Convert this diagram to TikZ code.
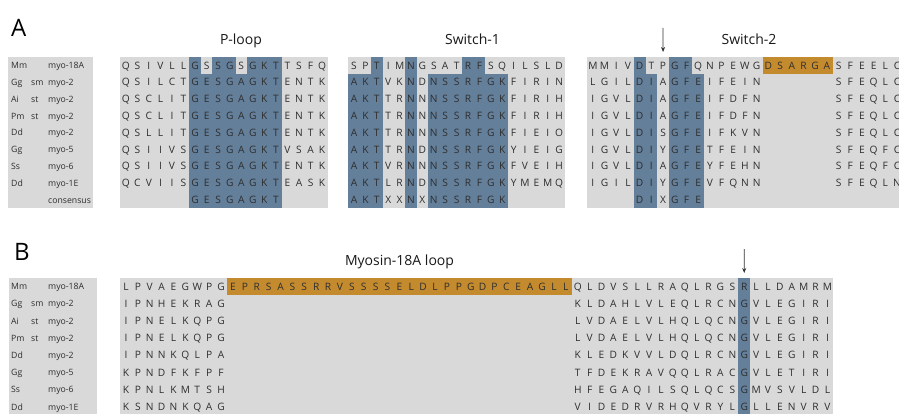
\documentclass[tikz,border=0pt]{standalone}
\usepackage{fontspec}
\setmainfont{Open Sans}
\usetikzlibrary{arrows.meta}
\definecolor{bggray}{HTML}{D9D9D9}
\definecolor{seqblue}{HTML}{647F9A}
\definecolor{seqorange}{HTML}{C48A2E}
\definecolor{txt}{HTML}{2E2E2E}
\tikzset{
  aa/.style={anchor=base,inner sep=0pt,text=txt,font=\fontsize{10.2}{11}\selectfont},
  lab/.style={anchor=base west,inner sep=0pt,text=txt,font=\fontsize{8.7}{10}\selectfont},
  ttl/.style={anchor=base,inner sep=0pt,text=black!90,font=\fontsize{14}{16}\selectfont},
  panel/.style={anchor=base west,inner sep=0pt,text=black,font=\fontsize{24}{26}\selectfont},
  mark arrow/.style={draw=black!80,line width=0.7pt,-{Stealth[length=5pt,width=4pt]}}
}
\newcommand\seqline[5]{%
  \foreach \c [count=\i] in {#5}{\node[aa] (#1-\i) at ({#2+(\i-0.5)*#3},{#4+3.7}) {\c};}}
\newcommand\labline[5]{%
  \node[lab] (#1a) at (11,{#2+3.3}) {#3};
  \node[lab] (#1b) at (31,{#2+3.3}) {#4};
  \node[lab] (#1c) at (48,{#2+3.3}) {#5};}
\begin{document}
\begin{tikzpicture}[x=1pt,y=-1pt]
\clip (0,0) rectangle (899,414);
\fill[white] (0,0) rectangle (899,414);
% ================= Panel A =================
\node[panel] (A) at (11,37) {A};
\node[ttl] (tploop) at (241,44.3) {P-loop};
\node[ttl] (tsw1) at (472.5,44.3) {Switch-1};
\node[ttl] (tsw2) at (749,45) {Switch-2};
% label box
\fill[bggray] (8,57) rectangle (93,208.2);
\labline{la1}{65.4}{Mm}{}{myo-18A}
\labline{la2}{82.2}{Gg}{sm}{myo-2}
\labline{la3}{99.0}{Ai}{st}{myo-2}
\labline{la4}{115.8}{Pm}{st}{myo-2}
\labline{la5}{132.6}{Dd}{}{myo-2}
\labline{la6}{149.4}{Gg}{}{myo-5}
\labline{la7}{166.2}{Ss}{}{myo-6}
\labline{la8}{183.0}{Dd}{}{myo-1E}
\labline{la9}{199.8}{}{}{consensus}
% P-loop: x0=120, w=11.55
\fill[bggray] (120,57) rectangle (327.9,208.2);
\fill[seqblue] (189.3,57) rectangle (281.7,208.2);
\fill[bggray] (200.85,57) rectangle (212.4,73.8);
\fill[bggray] (235.5,57) rectangle (247.05,73.8);
\seqline{p1}{120}{11.55}{65.4}{Q,S,I,V,L,L,G,S,S,G,S,G,K,T,T,S,F,Q}
\seqline{p2}{120}{11.55}{82.2}{Q,S,I,L,C,T,G,E,S,G,A,G,K,T,E,N,T,K}
\seqline{p3}{120}{11.55}{99.0}{Q,S,C,L,I,T,G,E,S,G,A,G,K,T,E,N,T,K}
\seqline{p4}{120}{11.55}{115.8}{Q,S,C,L,I,T,G,E,S,G,A,G,K,T,E,N,T,K}
\seqline{p5}{120}{11.55}{132.6}{Q,S,L,L,I,T,G,E,S,G,A,G,K,T,E,N,T,K}
\seqline{p6}{120}{11.55}{149.4}{Q,S,I,I,V,S,G,E,S,G,A,G,K,T,V,S,A,K}
\seqline{p7}{120}{11.55}{166.2}{Q,S,I,I,V,S,G,E,S,G,A,G,K,T,E,N,T,K}
\seqline{p8}{120}{11.55}{183.0}{Q,C,V,I,I,S,G,E,S,G,A,G,K,T,E,A,S,K}
\seqline{p9}{189.3}{11.55}{199.8}{G,E,S,G,A,G,K,T}
% Switch-1: x0=348.3, w=11.4
\fill[bggray] (348.3,57) rectangle (564.9,208.2);
\fill[seqblue] (371.1,57) rectangle (382.5,208.2);
\fill[seqblue] (405.3,57) rectangle (416.7,208.2);
\fill[seqblue] (462.3,57) rectangle (485.1,208.2);
\fill[seqblue] (348.3,73.8) rectangle (371.1,208.2);
\fill[seqblue] (428.1,73.8) rectangle (507.9,208.2);
\seqline{s1}{348.3}{11.4}{65.4}{S,P,T,I,M,N,G,S,A,T,R,F,S,Q,I,L,S,L,D}
\seqline{s2}{348.3}{11.4}{82.2}{A,K,T,V,K,N,D,N,S,S,R,F,G,K,F,I,R,I,N}
\seqline{s3}{348.3}{11.4}{99.0}{A,K,T,T,R,N,N,N,S,S,R,F,G,K,F,I,R,I,H}
\seqline{s4}{348.3}{11.4}{115.8}{A,K,T,T,R,N,N,N,S,S,R,F,G,K,F,I,R,I,H}
\seqline{s5}{348.3}{11.4}{132.6}{A,K,T,T,R,N,N,N,S,S,R,F,G,K,F,I,E,I,O}
\seqline{s6}{348.3}{11.4}{149.4}{A,K,T,T,R,N,D,N,S,S,R,F,G,K,Y,I,E,I,G}
\seqline{s7}{348.3}{11.4}{166.2}{A,K,T,V,R,N,N,N,S,S,R,F,G,K,F,V,E,I,H}
\seqline{s8}{348.3}{11.4}{183.0}{A,K,T,L,R,N,D,N,S,S,R,F,G,K,Y,M,E,M,Q}
\seqline{s9}{348.3}{11.4}{199.8}{A,K,T,X,X,N,X,N,S,S,R,F,G,K}
% Switch-2: x0=587, w=11.7
\fill[bggray] (587,57) rectangle (905,208.2);
\fill[seqblue] (633.8,57) rectangle (645.5,208.2);
\fill[seqblue] (668.9,57) rectangle (692.3,208.2);
\fill[seqblue] (645.5,73.8) rectangle (657.2,208.2);
\fill[seqblue] (692.3,73.8) rectangle (704.0,208.2);
\fill[seqorange] (762.5,57) rectangle (832.7,73.8);
\seqline{w1}{587}{11.7}{65.4}{M,M,I,V,D,T,P,G,F,Q,N,P,E,W,G,D,S,A,R,G,A,S,F,E,E,L,C}
\seqline{w2}{587}{11.7}{82.2}{L,G,I,L,D,I,A,G,F,E,I,F,E,I,N}
\seqline{w3}{587}{11.7}{99.0}{I,G,V,L,D,I,A,G,F,E,I,F,D,F,N}
\seqline{w4}{587}{11.7}{115.8}{I,G,V,L,D,I,A,G,F,E,I,F,D,F,N}
\seqline{w5}{587}{11.7}{132.6}{I,G,V,L,D,I,S,G,F,E,I,F,K,V,N}
\seqline{w6}{587}{11.7}{149.4}{I,G,V,L,D,I,Y,G,F,E,T,F,E,I,N}
\seqline{w7}{587}{11.7}{166.2}{I,G,V,L,D,I,A,G,F,E,Y,F,E,H,N}
\seqline{w8}{587}{11.7}{183.0}{I,G,I,L,D,I,Y,G,F,E,V,F,Q,N,N}
\seqline{v2}{832.7}{11.7}{82.2}{S,F,E,Q,L,C}
\seqline{v3}{832.7}{11.7}{99.0}{S,F,E,Q,L,C}
\seqline{v4}{832.7}{11.7}{115.8}{S,F,E,Q,L,C}
\seqline{v5}{832.7}{11.7}{132.6}{S,F,E,Q,L,C}
\seqline{v6}{832.7}{11.7}{149.4}{S,F,E,Q,F,C}
\seqline{v7}{832.7}{11.7}{166.2}{S,F,E,Q,F,C}
\seqline{v8}{832.7}{11.7}{183.0}{S,F,E,Q,L,N}
\seqline{w9}{633.8}{11.7}{199.8}{D,I,X,G,F,E}
\coordinate (arrA) at (663,28);
\draw[mark arrow] (arrA) -- (w1-7.north |- 0,52);
% ================= Panel B =================
\node[panel] (B) at (14,260) {B};
\node[ttl] (tloop) at (399.5,265.5) {Myosin-18A loop};
\fill[bggray] (9,277.7) rectangle (97,420);
\labline{lb1}{286.3}{Mm}{}{myo-18A}
\labline{lb2}{303.5}{Gg}{sm}{myo-2}
\labline{lb3}{320.7}{Ai}{st}{myo-2}
\labline{lb4}{337.9}{Pm}{st}{myo-2}
\labline{lb5}{355.1}{Dd}{}{myo-2}
\labline{lb6}{372.3}{Gg}{}{myo-5}
\labline{lb7}{389.5}{Ss}{}{myo-6}
\labline{lb8}{406.7}{Dd}{}{myo-1E}
% seq box x0=120, w=11.89
\fill[bggray] (120,277.7) rectangle (833.4,420);
\fill[seqorange] (227.0,277.7) rectangle (571.8,294.9);
\fill[seqblue] (738.3,277.7) rectangle (750.2,420);
\seqline{b1}{120}{11.89}{286.3}{L,P,V,A,E,G,W,P,G}
\seqline{b2}{120}{11.89}{303.5}{I,P,N,H,E,K,R,A,G}
\seqline{b3}{120}{11.89}{320.7}{I,P,N,E,L,K,Q,P,G}
\seqline{b4}{120}{11.89}{337.9}{I,P,N,E,L,K,Q,P,G}
\seqline{b5}{120}{11.89}{355.1}{I,P,N,N,K,Q,L,P,A}
\seqline{b6}{120}{11.89}{372.3}{K,P,N,D,F,K,F,P,F}
\seqline{b7}{120}{11.89}{389.5}{K,P,N,L,K,M,T,S,H}
\seqline{b8}{120}{11.89}{406.7}{K,S,N,D,N,K,Q,A,G}
\seqline{o1}{227.0}{11.89}{286.3}{E,P,R,S,A,S,S,R,R,V,S,S,S,S,E,L,D,L,P,P,G,D,P,C,E,A,G,L,L}
\seqline{c1}{571.82}{11.89}{286.3}{Q,L,D,V,S,L,L,R,A,Q,L,R,G,S,R,L,L,D,A,M,R,M}
\seqline{c2}{571.82}{11.89}{303.5}{K,L,D,A,H,L,V,L,E,Q,L,R,C,N,G,V,L,E,G,I,R,I}
\seqline{c3}{571.82}{11.89}{320.7}{L,V,D,A,E,L,V,L,H,Q,L,Q,C,N,G,V,L,E,G,I,R,I}
\seqline{c4}{571.82}{11.89}{337.9}{L,V,D,A,E,L,V,L,H,Q,L,Q,C,N,G,V,L,E,G,I,R,I}
\seqline{c5}{571.82}{11.89}{355.1}{K,L,E,D,K,V,V,L,D,Q,L,R,C,N,G,V,L,E,G,I,R,I}
\seqline{c6}{571.82}{11.89}{372.3}{T,F,D,E,K,R,A,V,Q,Q,L,R,A,C,G,V,L,E,T,I,R,I}
\seqline{c7}{571.82}{11.89}{389.5}{H,F,E,G,A,Q,I,L,S,Q,L,Q,C,S,G,M,V,S,V,L,D,L}
\seqline{c8}{571.82}{11.89}{406.7}{V,I,D,E,D,R,V,R,H,Q,V,R,Y,L,G,L,L,E,N,V,R,V}
\coordinate (arrB) at (744.2,249);
\draw[mark arrow] (arrB) -- (c1-15.north |- 0,273);
\end{tikzpicture}
\end{document}
